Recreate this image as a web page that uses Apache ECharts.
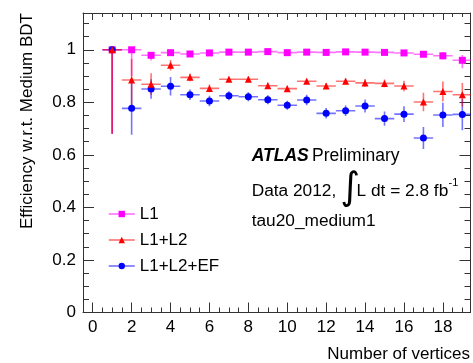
<!DOCTYPE html>
<html><head><meta charset="utf-8">
<script src="https://cdn.jsdelivr.net/npm/echarts@6/dist/echarts.min.js"></script>
<style>html,body{margin:0;padding:0;background:#fff}#c{width:473px;height:363px}</style>
</head><body><div id="c"></div>
<script>
// ---- data ----
const nVertices = [1,2,3,4,5,6,7,8,9,10,11,12,13,14,15,16,17,18,19];

const l1Eff    = [1.000,1.000,0.979,0.989,0.984,0.988,0.991,0.991,0.993,0.989,0.991,0.990,0.992,0.991,0.990,0.988,0.983,0.977,0.960];
const l1ErrLo  = [0.320,0.100,0.020,0.006,0.005,0.004,0.004,0.004,0.004,0.004,0.004,0.004,0.004,0.005,0.005,0.006,0.008,0.014,0.030];
const l1ErrHi  = [0.000,0.000,0.006,0.006,0.005,0.004,0.004,0.004,0.004,0.004,0.004,0.004,0.004,0.005,0.005,0.006,0.008,0.014,0.020];

const l2Eff    = [1.000,0.885,0.869,0.941,0.895,0.853,0.888,0.888,0.863,0.852,0.880,0.862,0.880,0.874,0.872,0.862,0.801,0.841,0.829];
const l2ErrLo  = [0.320,0.100,0.041,0.020,0.015,0.015,0.010,0.010,0.012,0.012,0.010,0.012,0.012,0.015,0.015,0.020,0.035,0.038,0.045];
const l2ErrHi  = [0.000,0.080,0.042,0.020,0.015,0.015,0.010,0.010,0.012,0.012,0.010,0.012,0.012,0.015,0.015,0.020,0.035,0.038,0.045];

const efEff    = [1.000,0.777,0.851,0.861,0.829,0.805,0.825,0.821,0.810,0.789,0.809,0.758,0.768,0.786,0.738,0.755,0.664,0.752,0.754];
const efErrLo  = [0.320,0.100,0.037,0.035,0.020,0.020,0.017,0.017,0.017,0.017,0.020,0.020,0.020,0.025,0.027,0.030,0.042,0.046,0.060];
const efErrHi  = [0.000,0.100,0.037,0.035,0.020,0.020,0.017,0.017,0.017,0.017,0.020,0.020,0.020,0.025,0.027,0.030,0.042,0.046,0.060];

const seriesNames = ['L1','L1+L2','L1+L2+EF'];

const xMajorTicks = [0,2,4,6,8,10,12,14,16,18];
const xMinorTicks = [0.5,1,1.5,2.5,3,3.5,4.5,5,5.5,6.5,7,7.5,8.5,9,9.5,10.5,11,11.5,12.5,13,13.5,14.5,15,15.5,16.5,17,17.5,18.5,19];
const yMajorTicks = [0,0.2,0.4,0.6,0.8,1.0];
const yMinorTicks = [0.05,0.1,0.15,0.25,0.3,0.35,0.45,0.5,0.55,0.65,0.7,0.75,0.85,0.9,0.95,1.05,1.1];

const xTitle = 'Number of vertices';
const yTitle = 'Efficiency w.r.t. Medium BDT';

// ---- chart ----
const FONT = "'Liberation Sans', Arial, Helvetica, sans-serif";
const FRAME = '#333';
const chart = echarts.init(document.getElementById('c'), null, {renderer:'canvas'});

const X_MIN = -0.5, X_MAX = 19.42, Y_MIN = 0, Y_MAX = 1.14;
const BIN_HALF = 0.5;

function xAxisDef(pos, ticks, len, showLine, labels) {
  return {
    type:'value', position:pos, min:X_MIN, max:X_MAX,
    axisLine:{show:showLine, onZero:false, lineStyle:{color:FRAME, width:1}},
    axisTick:{show:true, inside:true, length:len, customValues:ticks, lineStyle:{color:FRAME, width:1}},
    axisLabel:{show:!!labels, customValues:ticks, margin:6, color:'#000', fontSize:17, fontFamily:FONT},
    splitLine:{show:false}
  };
}
function yAxisDef(pos, ticks, len, showLine, labels) {
  return {
    type:'value', position:pos, min:Y_MIN, max:Y_MAX,
    axisLine:{show:showLine, onZero:false, lineStyle:{color:FRAME, width:1}},
    axisTick:{show:true, inside:true, length:len, customValues:ticks, lineStyle:{color:FRAME, width:1}},
    axisLabel:{show:!!labels, customValues:ticks, margin:7, color:'#000', fontSize:17, fontFamily:FONT},
    splitLine:{show:false}
  };
}

function errData(eff, lo, hi) {
  return nVertices.map((x,i) => [x, eff[i], eff[i]-lo[i], eff[i]+hi[i]]);
}
function errSeries(name, color, eff, lo, hi, z) {
  return {
    type:'custom', name:name+' err', xAxisIndex:0, yAxisIndex:0, clip:true, silent:true, z:z,
    encode:{x:0, y:1},
    data: errData(eff, lo, hi),
    renderItem: function(params, api) {
      const x = api.value(0), y = api.value(1), ylo = api.value(2), yhi = api.value(3);
      const pl = api.coord([x-BIN_HALF, y]), pr = api.coord([x+BIN_HALF, y]);
      const pb = api.coord([x, ylo]), pt = api.coord([x, yhi]);
      const st = {stroke:color, lineWidth:1.6, opacity:0.55};
      return {type:'group', children:[
        {type:'line', shape:{x1:pl[0], y1:pl[1], x2:pr[0], y2:pr[1]}, style:st},
        {type:'line', shape:{x1:pb[0], y1:pb[1], x2:pt[0], y2:pt[1]}, style:st}
      ]};
    }
  };
}
function markSeries(name, color, symbol, size, eff, z) {
  return {
    type:'line', name:name, xAxisIndex:0, yAxisIndex:0, z:z,
    data: nVertices.map((x,i) => [x, eff[i]]),
    symbol:symbol, symbolSize:size, showSymbol:true, showAllSymbol:true,
    itemStyle:{color:color, borderWidth:0},
    lineStyle:{width:0, opacity:0},
    emphasis:{disabled:true}, animation:false
  };
}

const option = {
  backgroundColor:'#fff',
  animation:false,
  grid:{left:83, right:2.5, top:13, bottom:50.5},
  xAxis:[
    xAxisDef('bottom', xMajorTicks, 10, true, true),
    xAxisDef('bottom', xMinorTicks, 5, false, false),
    xAxisDef('top', xMajorTicks, 7, true, false),
    xAxisDef('top', xMinorTicks, 4, false, false)
  ],
  yAxis:[
    yAxisDef('left', yMajorTicks, 11, true, true),
    yAxisDef('left', yMinorTicks, 6, false, false),
    yAxisDef('right', yMajorTicks, 11, true, false),
    yAxisDef('right', yMinorTicks, 6, false, false)
  ],
  legend:{
    orient:'vertical', left:108, top:205.5, padding:0,
    itemWidth:26, itemHeight:8, itemGap:9,
    textStyle:{fontSize:17, lineHeight:17, color:'#000', fontFamily:FONT},
    lineStyle:{width:1.5, opacity:0.6},
    data: seriesNames
  },
  series:[
    errSeries(seriesNames[2], '#0000ff', efEff, efErrLo, efErrHi, 2),
    errSeries(seriesNames[0], '#ff00ff', l1Eff, l1ErrLo, l1ErrHi, 3),
    errSeries(seriesNames[1], '#ff0000', l2Eff, l2ErrLo, l2ErrHi, 4),
    markSeries(seriesNames[0], '#ff00ff', 'rect', 7, l1Eff, 5),
    markSeries(seriesNames[1], '#ff0000', 'triangle', 7, l2Eff, 7),
    markSeries(seriesNames[2], '#0000ff', 'circle', 7, efEff, 6)
  ],
  graphic:[
    {type:'text', x:251.7, y:156.5, style:{text:'{b|ATLAS} {r|Preliminary}', textVerticalAlign:'middle',
      rich:{b:{fontSize:17.5, fontWeight:'bold', fontStyle:'italic', fontFamily:FONT, fill:'#000'},
            r:{fontSize:17.5, fontFamily:FONT, fill:'#000'}}}},
    {type:'text', x:251.7, y:191.5, style:{text:'Data 2012,', font:'17.3px '+FONT, fill:'#000', textVerticalAlign:'middle'}},
    {type:'text', x:340.5, y:189.5, style:{text:'\u222B', font:'38px DejaVu Sans', fill:'#000', textVerticalAlign:'middle'}},
    {type:'text', x:356.5, y:191.5, style:{text:'L dt = 2.8 fb', font:'17.3px '+FONT, fill:'#000', textVerticalAlign:'middle'}},
    {type:'text', x:448.5, y:183, style:{text:'-1', font:'11px '+FONT, fill:'#000', textVerticalAlign:'middle'}},
    {type:'text', x:251.7, y:221, style:{text:'tau20_medium1', font:'17.3px '+FONT, fill:'#000', textVerticalAlign:'middle'}},
    {type:'text', x:470, y:354, style:{text:xTitle, font:'17px '+FONT, fill:'#000', textAlign:'right', textVerticalAlign:'middle'}},
    {type:'text', x:27, y:13, rotation:Math.PI/2, style:{text:yTitle, font:'17px '+FONT, fill:'#000', textAlign:'right', textVerticalAlign:'middle'}}
  ]
};
chart.setOption(option);
</script>
</body></html>
